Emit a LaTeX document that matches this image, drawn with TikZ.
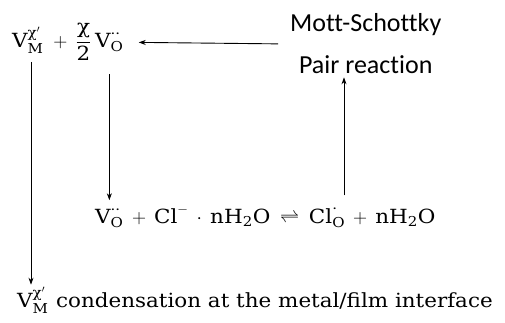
\documentclass[tikz,border=0pt]{standalone}
\usepackage{fix-cm}
\usepackage{amsmath}
\usepackage{fontspec}
\setmainfont[FakeStretch=1.1]{DejaVu Serif}
\newfontfamily\labfont[Ligatures=NoCommon]{Carlito}
\usetikzlibrary{arrows.meta}
\newcommand{\widemath}{\medmuskip=7.5mu\relax\thickmuskip=9mu\relax}
\begin{document}
\begin{tikzpicture}[x=1pt,y=-1pt,
  mth/.style={inner sep=0pt, font=\fontsize{19.5}{24}\selectfont\widemath},
  lab/.style={inner sep=0pt, font=\labfont\fontsize{26}{42}\selectfont, align=center},
  arr/.style={-{Stealth[length=7pt,width=5pt]}, line width=0.9pt}]
\useasboundingbox (0,0) rectangle (505,322);
% top formula
\node[mth, anchor=base west] (vm) at (12,47) {$\text{V}_{\text{M}}^{\text{χ}'}$};
\node[mth, anchor=base west] (fr) at (45,47) {${}+\dfrac{\text{χ}}{\text{2}}$};
\node[mth, anchor=base west] (vo) at (95,47) {$\text{V}_{\text{O}}^{\text{··}}$};
% label
\node[lab, anchor=west] (ms) at (290,44) {Mott-Schottky\\Pair reaction};
% middle equation
\node[mth, anchor=base west] (vo2) at (95,223) {$\text{V}_{\text{O}}^{\text{··}}$};
\node[mth, anchor=base west] (eq) at (vo2.base east) {${}+\text{Cl}^{-}\cdot\text{nH}_{\text{2}}\text{O} \rightleftharpoons \text{Cl}_{\text{O}}^{\text{·}} + \text{nH}_{\text{2}}\text{O}$};
% bottom line
\node[mth, anchor=base west] (bvm) at (17,307) {$\text{V}_{\text{M}}^{\text{χ}'}$};
\node[mth, anchor=base west] (cond) at (56,307) {condensation at the metal/film interface};
% connectors
\coordinate (lx) at (31,0);
\coordinate (rx) at (344,0);
\draw[arr, shorten <=8pt, shorten >=2pt] (vm.south -| lx) -- (bvm.north -| lx);
\draw[arr, shorten <=22pt, shorten >=8pt] (vo.south) -- (vo2.north);
\draw[arr, shorten <=10pt, shorten >=3pt] (eq.north -| rx) -- (ms.south -| rx);
\draw[arr, shorten <=12pt, shorten >=15pt] (ms.west) -- (vo.east);
\end{tikzpicture}
\end{document}
